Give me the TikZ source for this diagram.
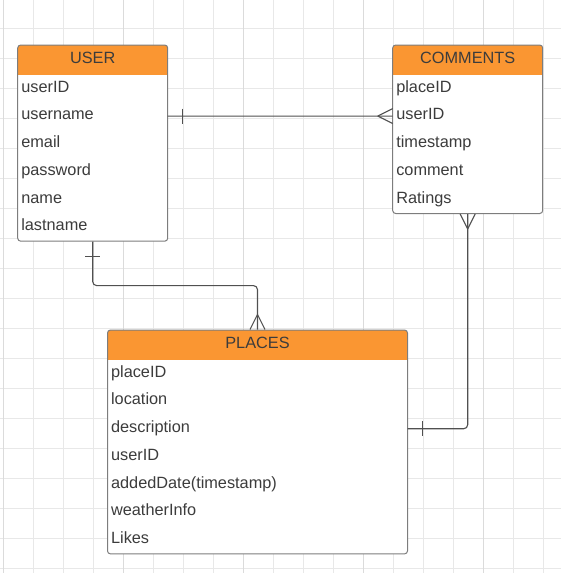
\documentclass[tikz,border=0pt]{standalone}
\usepackage{fontspec}
\setmainfont{Liberation Sans}
\usetikzlibrary{positioning,calc}
\definecolor{headorange}{RGB}{250,150,50}
\definecolor{boxgray}{RGB}{125,125,125}
\definecolor{linkgray}{RGB}{80,80,80}
\definecolor{textgray}{RGB}{60,60,60}
\tikzstyle{entity}=[draw=boxgray,fill=white,line width=1pt,rounded
corners=3pt,minimum width=150pt,inner sep=0pt,path picture={\fill[headorange,sharp corners]
  (path picture bounding box.north west) rectangle ([yshift=-30pt]path picture bounding box.north east);}]
\tikzstyle{head}=[minimum width=150pt,minimum height=30pt,inner sep=0pt,outer sep=0pt,text=textgray,
  font=\fontsize{16.3}{19}\selectfont,text height=12pt,text depth=3.4pt]
\tikzstyle{attr}=[head,text width=142.8pt,inner xsep=3.6pt,minimum
height=27.7pt,align=left,text depth=4.3pt]
\tikzstyle{widehead}=[head,minimum width=300pt]
\tikzstyle{wideattr}=[attr,text width=292.8pt]
\tikzstyle{link}=[draw=linkgray,line width=1.1pt]
\tikzstyle{gridline}=[black!9,line width=0.8pt]
\tikzstyle{gridmajor}=[black!14,line width=0.8pt]

\begin{document}
\begin{tikzpicture}[x=1pt,y=-1pt]
  \useasboundingbox (0,0) rectangle (561,573);
  \draw[gridline,step=30pt,shift={(3,28)}] (-3,-28) grid (558,545);
  \foreach \gx in {3,123,243,363,483}
    \draw[gridmajor] (\gx,0) -- (\gx,573);

  % USER
  \node[entity,minimum height=196.2pt] (user) at (92.7,143.1) {};
  \node[head,anchor=north] (userhead) at (user.north) {USER};
  \node[attr,below=0pt of userhead] (user1) {userID};
  \node[attr,below=0pt of user1] (user2) {username};
  \node[attr,below=0pt of user2] (user3) {email};
  \node[attr,below=0pt of user3] (user4) {password};
  \node[attr,below=0pt of user4] (user5) {name};
  \node[attr,below=0pt of user5] (user6) {lastname};

  % COMMENTS
  \node[entity,minimum height=168.5pt] (comm) at (467.7,129.25) {};
  \node[head,anchor=north] (commhead) at (comm.north) {COMMENTS};
  \node[attr,below=0pt of commhead] (comm1) {placeID};
  \node[attr,below=0pt of comm1] (comm2) {userID};
  \node[attr,below=0pt of comm2] (comm3) {timestamp};
  \node[attr,below=0pt of comm3] (comm4) {comment};
  \node[attr,below=0pt of comm4] (comm5) {Ratings};

  % PLACES
  \node[entity,minimum width=300pt,minimum height=223.9pt] (place) at (257.5,441.95) {};
  \node[widehead,anchor=north] (placehead) at (place.north) {PLACES};
  \node[wideattr,below=0pt of placehead] (place1) {placeID};
  \node[wideattr,below=0pt of place1] (place2) {location};
  \node[wideattr,below=0pt of place2] (place3) {description};
  \node[wideattr,below=0pt of place3] (place4) {userID};
  \node[wideattr,below=0pt of place4] (place5) {addedDate(timestamp)};
  \node[wideattr,below=0pt of place5] (place6) {weatherInfo};
  \node[wideattr,below=0pt of place6] (place7) {Likes};

  % user -- comments
  \draw[link] (user2.east) -- (comm2.west);
  \draw[link] (user2.east) ++(15,-7.5) -- ++(0,15);
  \draw[link] (comm2.west) ++(-15,0) -- ++(15,-7.5) ++(-15,7.5) -- ++(15,7.5);

  % user -- places
  \draw[link,rounded corners=4pt] (user.south) |- ($(user.south)!.5!(place.north)$) -| (place.north);
  \draw[link] (user.south) ++(-7.5,15) -- ++(15,0);
  \draw[link] (place.north) ++(0,-15) -- ++(-7.5,15) ++(7.5,-15) -- ++(7.5,15);

  % comments -- places
  \draw[link,rounded corners=4pt] (comm.south) |- (place3.east);
  \draw[link] (comm.south) ++(0,15) -- ++(-7.5,-15) ++(7.5,15) -- ++(7.5,-15);
  \draw[link] (place3.east) ++(15,-7.5) -- ++(0,15);
\end{tikzpicture}
\end{document}
